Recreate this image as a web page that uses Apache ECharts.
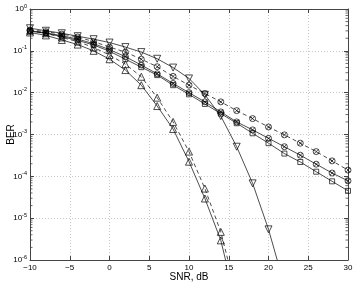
<!DOCTYPE html>
<html>
<head>
<meta charset="utf-8">
<script src="https://cdn.jsdelivr.net/npm/echarts@6/dist/echarts.min.js"></script>
<style>html,body{margin:0;padding:0;background:#fff}#c{width:354px;height:284px}</style>
</head>
<body>
<div id="c"></div>
<script>
const snr = [-10,-8,-6,-4,-2,0,2,4,6,8,10,12,14,16,18,20,22,24,26,28,30];
const triUpSolid  = [0.275,0.234,0.182,0.141,0.100,0.063,0.0347,0.0151,0.00479,0.00135,2.24e-4,2.95e-5,2.95e-6,8e-8];
const triUpDashed = [0.302,0.263,0.209,0.166,0.120,0.0794,0.0479,0.024,0.0076,0.0020,3.9e-4,5.1e-5,4.7e-6,1.5e-7];
const triDown     = [0.347,0.302,0.263,0.224,0.19,0.158,0.123,0.0933,0.0646,0.0398,0.0219,0.0089,0.00275,5.1e-4,6.8e-5,5.4e-6,2.5e-7];
const circDashed  = [0.316,0.288,0.251,0.214,0.166,0.123,0.0933,0.0631,0.0417,0.0245,0.0151,0.00955,0.00603,0.00372,0.0024,0.00151,9.8e-4,6.2e-4,3.9e-4,2.34e-4,1.41e-4];
const circSolid   = [0.302,0.269,0.229,0.191,0.148,0.107,0.0724,0.0457,0.0282,0.0166,0.0100,0.00603,0.00347,0.0020,0.00129,8.1e-4,5.1e-4,3.2e-4,1.95e-4,1.2e-4,7.8e-5];
const squareSolid = [0.295,0.263,0.219,0.178,0.138,0.0977,0.0631,0.0407,0.0263,0.0151,0.00912,0.00537,0.00316,0.00186,0.00107,6.2e-4,3.5e-4,2.2e-4,1.29e-4,7.6e-5,4.5e-5];
const xTicks = [-10,-5,0,5,10,15,20,25,30];
const yDecades = [-6,-5,-4,-3,-2,-1,0];
const minorMult = [2,3,4,5,6,7,8,9];

const minorVals = [];
yDecades.slice(0,-1).forEach(e => minorMult.forEach(m => minorVals.push(m * Math.pow(10, e))));

function pair(arr){ return arr.map((v,i)=>[snr[i], v]); }

const circX = 'path://M0,-5A5,5,0,1,1,0,5A5,5,0,1,1,0,-5ZM-3.5,-3.5L3.5,3.5M-3.5,3.5L3.5,-3.5';
const FONT = 'Liberation Sans, Arial, Helvetica, sans-serif';

function mk(name, data, symbol, dashed, size, rot){
  return {
    name, type:'line', data: pair(data), symbol, symbolSize: size, symbolRotate: rot||0,
    showAllSymbol: true, clip: true, z: 3,
    lineStyle:{color:'#000', width:0.7, type: dashed ? [4,3] : 'solid'},
    itemStyle:{color:'rgba(0,0,0,0)', borderColor:'#000', borderWidth:0.7},
    emphasis:{disabled:true}, animation:false
  };
}

const chart = echarts.init(document.getElementById('c'), null, {renderer:'canvas'});
const axisLineStyle = {color:'#444', width:1};
chart.setOption({
  animation:false,
  backgroundColor:'#fff',
  grid:{left:30, right:6, top:9, bottom:24, containLabel:false, outerBoundsMode:'none'},
  xAxis:[{
    type:'value', min:-10, max:30, interval:5,
    axisLine:{show:true, onZero:false, lineStyle:axisLineStyle},
    axisTick:{show:true, inside:true, length:4, lineStyle:{color:'#444'}},
    axisLabel:{fontSize:8, fontFamily:FONT, color:'#000', margin:4,
      formatter: v => (v<0 ? '\u2212'+Math.abs(v) : String(v))},
    splitLine:{show:true, lineStyle:{color:'#bbb', type:[1,2], width:0.8}},
    name:'SNR, dB', nameLocation:'middle', nameGap:12, nameMoveOverlap:false,
    nameTextStyle:{fontSize:10, fontFamily:FONT, color:'#000', verticalAlign:'top'}
  },{
    type:'value', min:-10, max:30, interval:5, position:'top',
    axisLine:{show:true, onZero:false, lineStyle:axisLineStyle},
    axisTick:{show:true, inside:true, length:4, lineStyle:{color:'#444'}},
    axisLabel:{show:false}, splitLine:{show:false}
  }],
  yAxis:[{
    type:'log', logBase:10, min:1e-6, max:1, interval:1,
    axisLine:{show:true, onZero:false, lineStyle:axisLineStyle},
    axisTick:{show:true, inside:true, length:4, lineStyle:{color:'#444'}},
    axisLabel:{margin:3, fontFamily:FONT, color:'#000',
      formatter: v => '{b|10}{s|' + Math.round(Math.log10(v)) + '}',
      rich:{ b:{fontSize:8, fontFamily:FONT, color:'#000'},
             s:{fontSize:5.5, fontFamily:FONT, color:'#000', padding:[0,0,6,0]} }},
    splitLine:{show:true, lineStyle:{color:'#bbb', type:[1,2], width:0.8}},
    name:'BER', nameLocation:'middle', nameGap:14, nameRotate:90, nameMoveOverlap:false,
    nameTextStyle:{fontSize:10, fontFamily:FONT, color:'#000'}
  },{
    type:'log', logBase:10, min:1e-6, max:1, interval:1, position:'right',
    axisLine:{show:true, onZero:false, lineStyle:axisLineStyle},
    axisTick:{show:true, inside:true, length:4, lineStyle:{color:'#444'}},
    axisLabel:{show:false}, splitLine:{show:false}
  }],
  series:[
    mk('tri-up solid', triUpSolid, 'triangle', false, 7),
    mk('tri-up dashed', triUpDashed, 'triangle', true, 7),
    mk('tri-down', triDown, 'triangle', false, 7, 180),
    mk('circ dashed', circDashed, circX, true, 6),
    mk('circ solid', circSolid, circX, false, 6),
    mk('square', squareSolid, 'rect', false, 5),
    {
      type:'custom', name:'minor', silent:true, z:4, clip:false,
      data: minorVals.map(v => [-10, v]),
      renderItem: function(params, api){
        const v = api.value(1);
        const l = api.coord([-10, v]);
        const r = api.coord([30, v]);
        const st = {stroke:'#444', lineWidth:0.8};
        return {type:'group', children:[
          {type:'line', shape:{x1:l[0], y1:l[1], x2:l[0]+2.5, y2:l[1]}, style:st},
          {type:'line', shape:{x1:r[0], y1:r[1], x2:r[0]-2.5, y2:r[1]}, style:st}
        ]};
      }
    }
  ]
});
</script>
</body>
</html>
